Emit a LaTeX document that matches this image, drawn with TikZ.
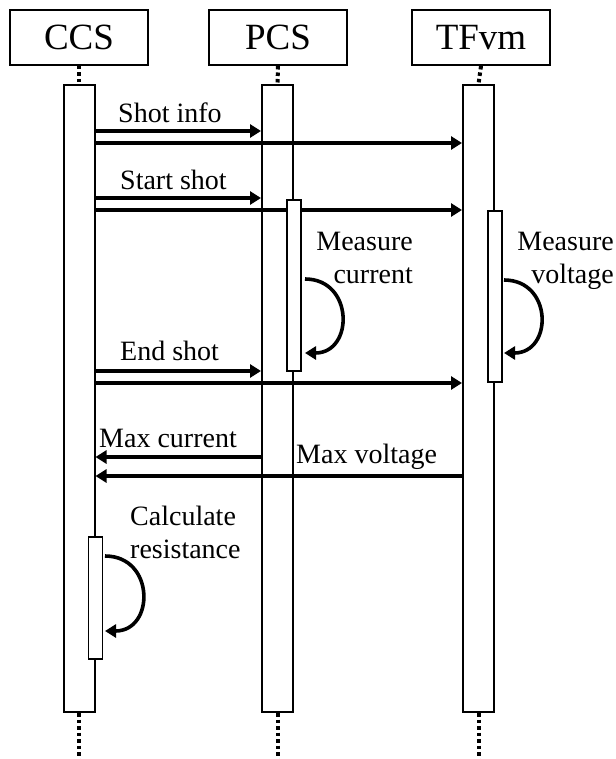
\documentclass[tikz,border=0pt]{standalone}
\usepackage{fontspec}
\setmainfont{Liberation Serif}
\usetikzlibrary{arrows.meta}
\begin{document}
\begin{tikzpicture}[x=1pt,y=-1pt,
  head/.style={draw,line width=2pt,minimum width=138pt,minimum height=55pt,inner sep=0pt,font=\fontsize{37}{40}\selectfont},
  bar/.style={draw,line width=2pt,fill=white,minimum width=31pt,minimum height=627pt,inner sep=0pt,anchor=north},
  sbar/.style={draw,line width=1.8pt,fill=white,minimum width=14pt,inner sep=0pt,anchor=north},
  msg/.style={line width=3.6pt,-{Triangle[length=11pt,width=13pt]}},
  self/.style={line width=3.6pt,-{Triangle[length=11pt,width=13pt]}},
  life/.style={line width=4pt,dash pattern=on 3.5pt off 3pt},
  lbl/.style={font=\fontsize{28}{33}\selectfont,inner sep=0pt}]
\useasboundingbox (0,0) rectangle (615,759);
% headers
\node[head] (hccs) at (79,37.5) {CCS};
\node[head] (hpcs) at (278,37.5) {PCS};
\node[head] (htf) at (481,37.5) {TFvm};
% main bars
\node[bar] (bccs) at (79,84) {};
\node[bar] (bpcs) at (277.5,84) {};
\node[bar] (btf) at (478.5,84) {};
% lifelines
\coordinate (eccs) at (79,759);
\coordinate (epcs) at (277.5,759);
\coordinate (etf) at (478.5,759);
\draw[life] (hccs.south) -- (bccs.north);
\draw[life] (hpcs.south) -- (bpcs.north);
\draw[life] (htf.south) -- (btf.north);
\draw[life] (bccs.south) -- (eccs);
\draw[life] (bpcs.south) -- (epcs);
\draw[life] (btf.south) -- (etf);
% messages
\draw[msg] (bccs.east |- 0,131) -- (bpcs.west |- 0,131);
\draw[msg] (bccs.east |- 0,143) -- (btf.west |- 0,143);
\node[lbl,anchor=base west] (lshot) at (118,123) {Shot info};
\draw[msg] (bccs.east |- 0,198) -- (bpcs.west |- 0,198);
\draw[msg] (bccs.east |- 0,210) -- (btf.west |- 0,210);
\node[lbl,anchor=base west] (lstart) at (120,190) {Start shot};
% activation bars
\node[sbar,minimum height=171pt] (spcs) at (bpcs.east |- 0,199) {};
\node[sbar,minimum height=171pt] (stf) at (btf.east |- 0,210) {};
% self messages
\coordinate (a1) at (305,279);
\coordinate (a2) at (305,353);
\draw[self] (a1) .. controls (354,279) and (354,353) .. (a2);
\node[lbl,anchor=base east,align=right] (lmc) at (413,283) {Measure\\current};
\coordinate (b1) at (504,280);
\coordinate (b2) at (504,353);
\draw[self] (b1) .. controls (553,280) and (553,353) .. (b2);
\node[lbl,anchor=base east,align=right] (lmv) at (614,283) {Measure\\voltage};
% end shot
\draw[msg] (bccs.east |- 0,371) -- (bpcs.west |- 0,371);
\draw[msg] (bccs.east |- 0,383) -- (btf.west |- 0,383);
\node[lbl,anchor=base west] (lend) at (120,360) {End shot};
% replies
\draw[msg] (bpcs.west |- 0,457) -- (bccs.east |- 0,457);
\node[lbl,anchor=base west] (lmaxc) at (99,447) {Max current};
\draw[msg] (btf.west |- 0,476) -- (bccs.east |- 0,476);
\node[lbl,anchor=base west] (lmaxv) at (296,463) {Max voltage};
% calculate
\node[sbar,minimum height=122pt] (sccs) at (bccs.east |- 0,536) {};
\coordinate (c1) at (105,556);
\coordinate (c2) at (105,631);
\draw[self] (c1) .. controls (155,556) and (155,631) .. (c2);
\node[lbl,anchor=base west,align=left] (lcalc) at (130,558) {Calculate\\resistance};
\end{tikzpicture}
\end{document}
